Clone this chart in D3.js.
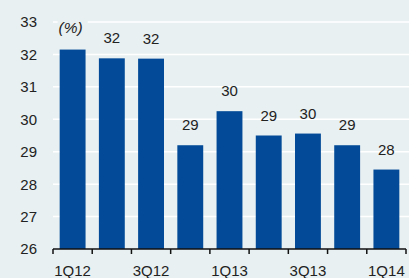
<!DOCTYPE html>
<html>
<head>
<meta charset="utf-8">
<script src="https://cdn.jsdelivr.net/npm/d3@7"></script>
<style>
  html, body { margin: 0; padding: 0; background: #e8f0f1; }
  svg { display: block; font-family: "Liberation Sans", Arial, sans-serif; }
</style>
</head>
<body>
<div id="chart"></div>
<script>
const quarters = ['1Q12', '2Q12', '3Q12', '4Q12', '1Q13', '2Q13', '3Q13', '4Q13', '1Q14'];
const values = [32.15, 31.88, 31.87, 29.2, 30.25, 29.5, 29.56, 29.2, 28.45];
const barLabels = ['', '32', '32', '29', '30', '29', '30', '29', '28'];
const yTicks = [26, 27, 28, 29, 30, 31, 32, 33];
const xTickLabels = ['1Q12', '3Q12', '1Q13', '3Q13', '1Q14'];

const width = 409, height = 278;
const plotLeft = 53, plotRight = 406, plotTop = 22, plotBottom = 249;

const svg = d3.select('#chart').append('svg')
  .attr('width', width)
  .attr('height', height);

svg.append('rect')
  .attr('width', width).attr('height', height)
  .attr('fill', '#e8f0f1');

const x = d3.scaleBand()
  .domain(quarters)
  .range([plotLeft, plotRight])
  .paddingInner(0.34)
  .paddingOuter(0.17);

const y = d3.scaleLinear()
  .domain([26, 33])
  .range([plotBottom, plotTop]);

// gridlines
svg.append('g')
  .selectAll('line')
  .data(yTicks.slice(1))
  .enter()
  .append('line')
  .attr('x1', plotLeft)
  .attr('x2', width)
  .attr('y1', d => y(d))
  .attr('y2', d => y(d))
  .attr('stroke', '#ffffff')
  .attr('stroke-width', 1.5);

// y labels
svg.append('g')
  .selectAll('text')
  .data(yTicks)
  .enter()
  .append('text')
  .attr('x', 37)
  .attr('y', d => y(d))
  .attr('dy', '0.36em')
  .attr('text-anchor', 'end')
  .attr('font-size', 15)
  .attr('fill', '#222')
  .text(d => d);

// bars
svg.append('g')
  .selectAll('rect')
  .data(values)
  .enter()
  .append('rect')
  .attr('x', (d, i) => x(quarters[i]))
  .attr('y', d => y(d))
  .attr('width', x.bandwidth())
  .attr('height', d => y(26) - y(d))
  .attr('fill', '#034b98');

// value labels
svg.append('g')
  .selectAll('text')
  .data(values)
  .enter()
  .append('text')
  .attr('x', (d, i) => x(quarters[i]) + x.bandwidth() / 2)
  .attr('y', d => y(d) - 15)
  .attr('text-anchor', 'middle')
  .attr('font-size', 15)
  .attr('fill', '#222')
  .text((d, i) => barLabels[i]);

// (%) unit label over the first bar
const unit = svg.append('g');
unit.append('rect')
  .attr('x', x(quarters[0]) - 2)
  .attr('y', plotTop - 4)
  .attr('width', 30)
  .attr('height', 10)
  .attr('fill', '#e8f0f1');
unit.append('text')
  .attr('x', x(quarters[0]) + x.bandwidth() / 2 - 2)
  .attr('y', 33)
  .attr('text-anchor', 'middle')
  .attr('font-size', 15.5)
  .attr('font-style', 'italic')
  .attr('fill', '#222')
  .text('(%)');

// x axis
const step = x.step();
const ticks = d3.range(quarters.length + 1).map(i => plotLeft + i * step);
const axis = svg.append('g');
axis.append('line')
  .attr('x1', plotLeft).attr('x2', plotRight)
  .attr('y1', plotBottom).attr('y2', plotBottom)
  .attr('stroke', '#111').attr('stroke-width', 1.5);
axis.selectAll('.tick')
  .data(ticks)
  .enter()
  .append('line')
  .attr('x1', d => d).attr('x2', d => d)
  .attr('y1', plotBottom).attr('y2', plotBottom + 5)
  .attr('stroke', '#111').attr('stroke-width', 1.5);

axis.selectAll('text')
  .data(xTickLabels)
  .enter()
  .append('text')
  .attr('x', d => x(d) + x.bandwidth() / 2)
  .attr('y', 276)
  .attr('text-anchor', 'middle')
  .attr('font-size', 15)
  .attr('fill', '#222')
  .text(d => d);
</script>
</body>
</html>
